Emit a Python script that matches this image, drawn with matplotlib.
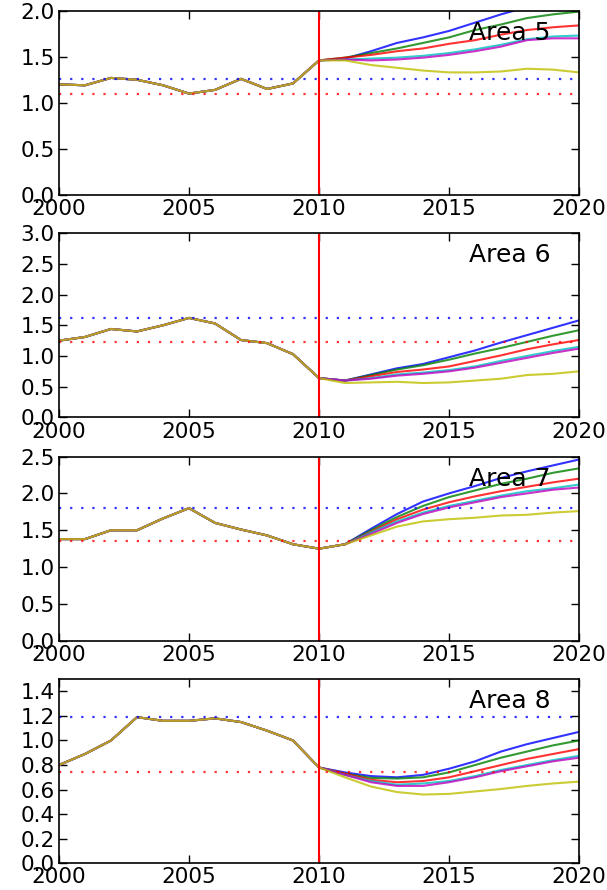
import matplotlib
matplotlib.use("Agg")
import matplotlib.pyplot as plt

years_hist = list(range(2000, 2011))
years_proj = list(range(2010, 2021))

areas = ["Area 5", "Area 6", "Area 7", "Area 8"]
ylims = [(0, 2.0), (0, 3.0), (0, 2.5), (0, 1.5)]
yticks = [[0.0, 0.5, 1.0, 1.5, 2.0],
          [0.0, 0.5, 1.0, 1.5, 2.0, 2.5, 3.0],
          [0.0, 0.5, 1.0, 1.5, 2.0, 2.5],
          [0.0, 0.2, 0.4, 0.6, 0.8, 1.0, 1.2, 1.4]]

hist = {
    "Area 5": [1.20, 1.19, 1.27, 1.25, 1.19, 1.10, 1.14, 1.26, 1.15, 1.21, 1.46],
    "Area 6": [1.25, 1.31, 1.44, 1.40, 1.50, 1.62, 1.53, 1.26, 1.21, 1.03, 0.64],
    "Area 7": [1.38, 1.38, 1.50, 1.50, 1.66, 1.80, 1.60, 1.51, 1.43, 1.31, 1.25],
    "Area 8": [0.80, 0.89, 1.00, 1.19, 1.16, 1.16, 1.18, 1.15, 1.08, 1.00, 0.78],
}

# projections 2011..2020 per scenario (blue, green, red, cyan, magenta, yellow)
proj = {
    "Area 5": [
        [1.48, 1.56, 1.65, 1.71, 1.78, 1.87, 1.96, 2.04, 2.12, 2.20],
        [1.49, 1.54, 1.59, 1.65, 1.71, 1.79, 1.85, 1.92, 1.96, 1.99],
        [1.49, 1.52, 1.56, 1.59, 1.64, 1.68, 1.74, 1.79, 1.82, 1.84],
        [1.47, 1.48, 1.49, 1.51, 1.54, 1.58, 1.63, 1.69, 1.72, 1.73],
        [1.47, 1.46, 1.47, 1.49, 1.52, 1.56, 1.61, 1.68, 1.70, 1.70],
        [1.46, 1.41, 1.38, 1.35, 1.33, 1.33, 1.34, 1.37, 1.36, 1.33],
    ],
    "Area 6": [
        [0.60, 0.70, 0.80, 0.87, 0.98, 1.09, 1.22, 1.34, 1.46, 1.58],
        [0.60, 0.69, 0.78, 0.85, 0.94, 1.04, 1.13, 1.23, 1.33, 1.42],
        [0.60, 0.67, 0.74, 0.78, 0.83, 0.92, 1.01, 1.11, 1.19, 1.26],
        [0.60, 0.64, 0.70, 0.73, 0.77, 0.83, 0.92, 1.00, 1.08, 1.15],
        [0.60, 0.63, 0.68, 0.71, 0.75, 0.81, 0.89, 0.97, 1.05, 1.12],
        [0.56, 0.57, 0.58, 0.56, 0.57, 0.60, 0.63, 0.69, 0.71, 0.75],
    ],
    "Area 7": [
        [1.31, 1.52, 1.72, 1.89, 2.00, 2.10, 2.21, 2.30, 2.38, 2.46],
        [1.31, 1.50, 1.68, 1.83, 1.95, 2.04, 2.13, 2.20, 2.28, 2.34],
        [1.31, 1.48, 1.65, 1.78, 1.88, 1.96, 2.03, 2.09, 2.15, 2.20],
        [1.31, 1.47, 1.62, 1.74, 1.83, 1.90, 1.97, 2.03, 2.07, 2.12],
        [1.31, 1.45, 1.60, 1.72, 1.81, 1.88, 1.95, 2.00, 2.05, 2.08],
        [1.31, 1.43, 1.55, 1.62, 1.65, 1.67, 1.70, 1.71, 1.74, 1.76],
    ],
    "Area 8": [
        [0.74, 0.71, 0.70, 0.72, 0.77, 0.83, 0.91, 0.97, 1.02, 1.07],
        [0.73, 0.695, 0.69, 0.70, 0.74, 0.80, 0.86, 0.91, 0.96, 1.00],
        [0.73, 0.68, 0.66, 0.67, 0.70, 0.75, 0.80, 0.85, 0.89, 0.93],
        [0.72, 0.67, 0.64, 0.65, 0.67, 0.71, 0.76, 0.80, 0.84, 0.875],
        [0.72, 0.66, 0.63, 0.63, 0.66, 0.70, 0.75, 0.79, 0.83, 0.86],
        [0.70, 0.625, 0.58, 0.56, 0.565, 0.585, 0.605, 0.63, 0.65, 0.665],
    ],
}

max_ref = {"Area 5": 1.26, "Area 6": 1.615, "Area 7": 1.80, "Area 8": 1.19}
min_ref = {"Area 5": 1.10, "Area 6": 1.233, "Area 7": 1.353, "Area 8": 0.745}

colors = [(0, 0, 1), (0, 0.5, 0), (1, 0, 0), (0, 0.75, 0.75), (0.75, 0, 0.75), (0.75, 0.75, 0)]

plt.rcParams['font.family'] = ['DejaVu Sans']
fig = plt.figure(figsize=(6.07, 8.90), dpi=100)
left, width, height = 0.0972, 0.8567, 0.207
bottoms = [0.781, 0.531, 0.280, 0.030]

for area, yl, yt, b in zip(areas, ylims, yticks, bottoms):
    ax = fig.add_axes([left, b, width, height])
    for c, p in zip(colors, proj[area]):
        xs = years_hist + years_proj[1:]
        ys = hist[area] + p
        ax.plot(xs, ys, color=c, lw=1.5, alpha=0.8)
    ax.axhline(max_ref[area], color='b', ls=(0, (1, 4)), lw=1.6, alpha=0.8)
    ax.axhline(min_ref[area], color='r', ls=(0, (1, 4)), lw=1.6, alpha=0.8)
    ax.axvline(2010, color='r', lw=1.5)
    ax.set_xlim(2000, 2020)
    ax.set_ylim(*yl)
    ax.set_xticks([2000, 2005, 2010, 2015, 2020])
    ax.set_yticks(yt)
    ax.set_yticklabels([f"{v:.1f}" for v in yt])
    ax.tick_params(direction='in', top=True, right=True, length=6, width=1,
                   labelsize=15.5, pad=3)
    for s in ax.spines.values():
        s.set_linewidth(1.2)
    ax.text(0.945, 0.945, area, transform=ax.transAxes, ha='right', va='top',
            fontsize=18)

fig.savefig("out.png", dpi=100)
